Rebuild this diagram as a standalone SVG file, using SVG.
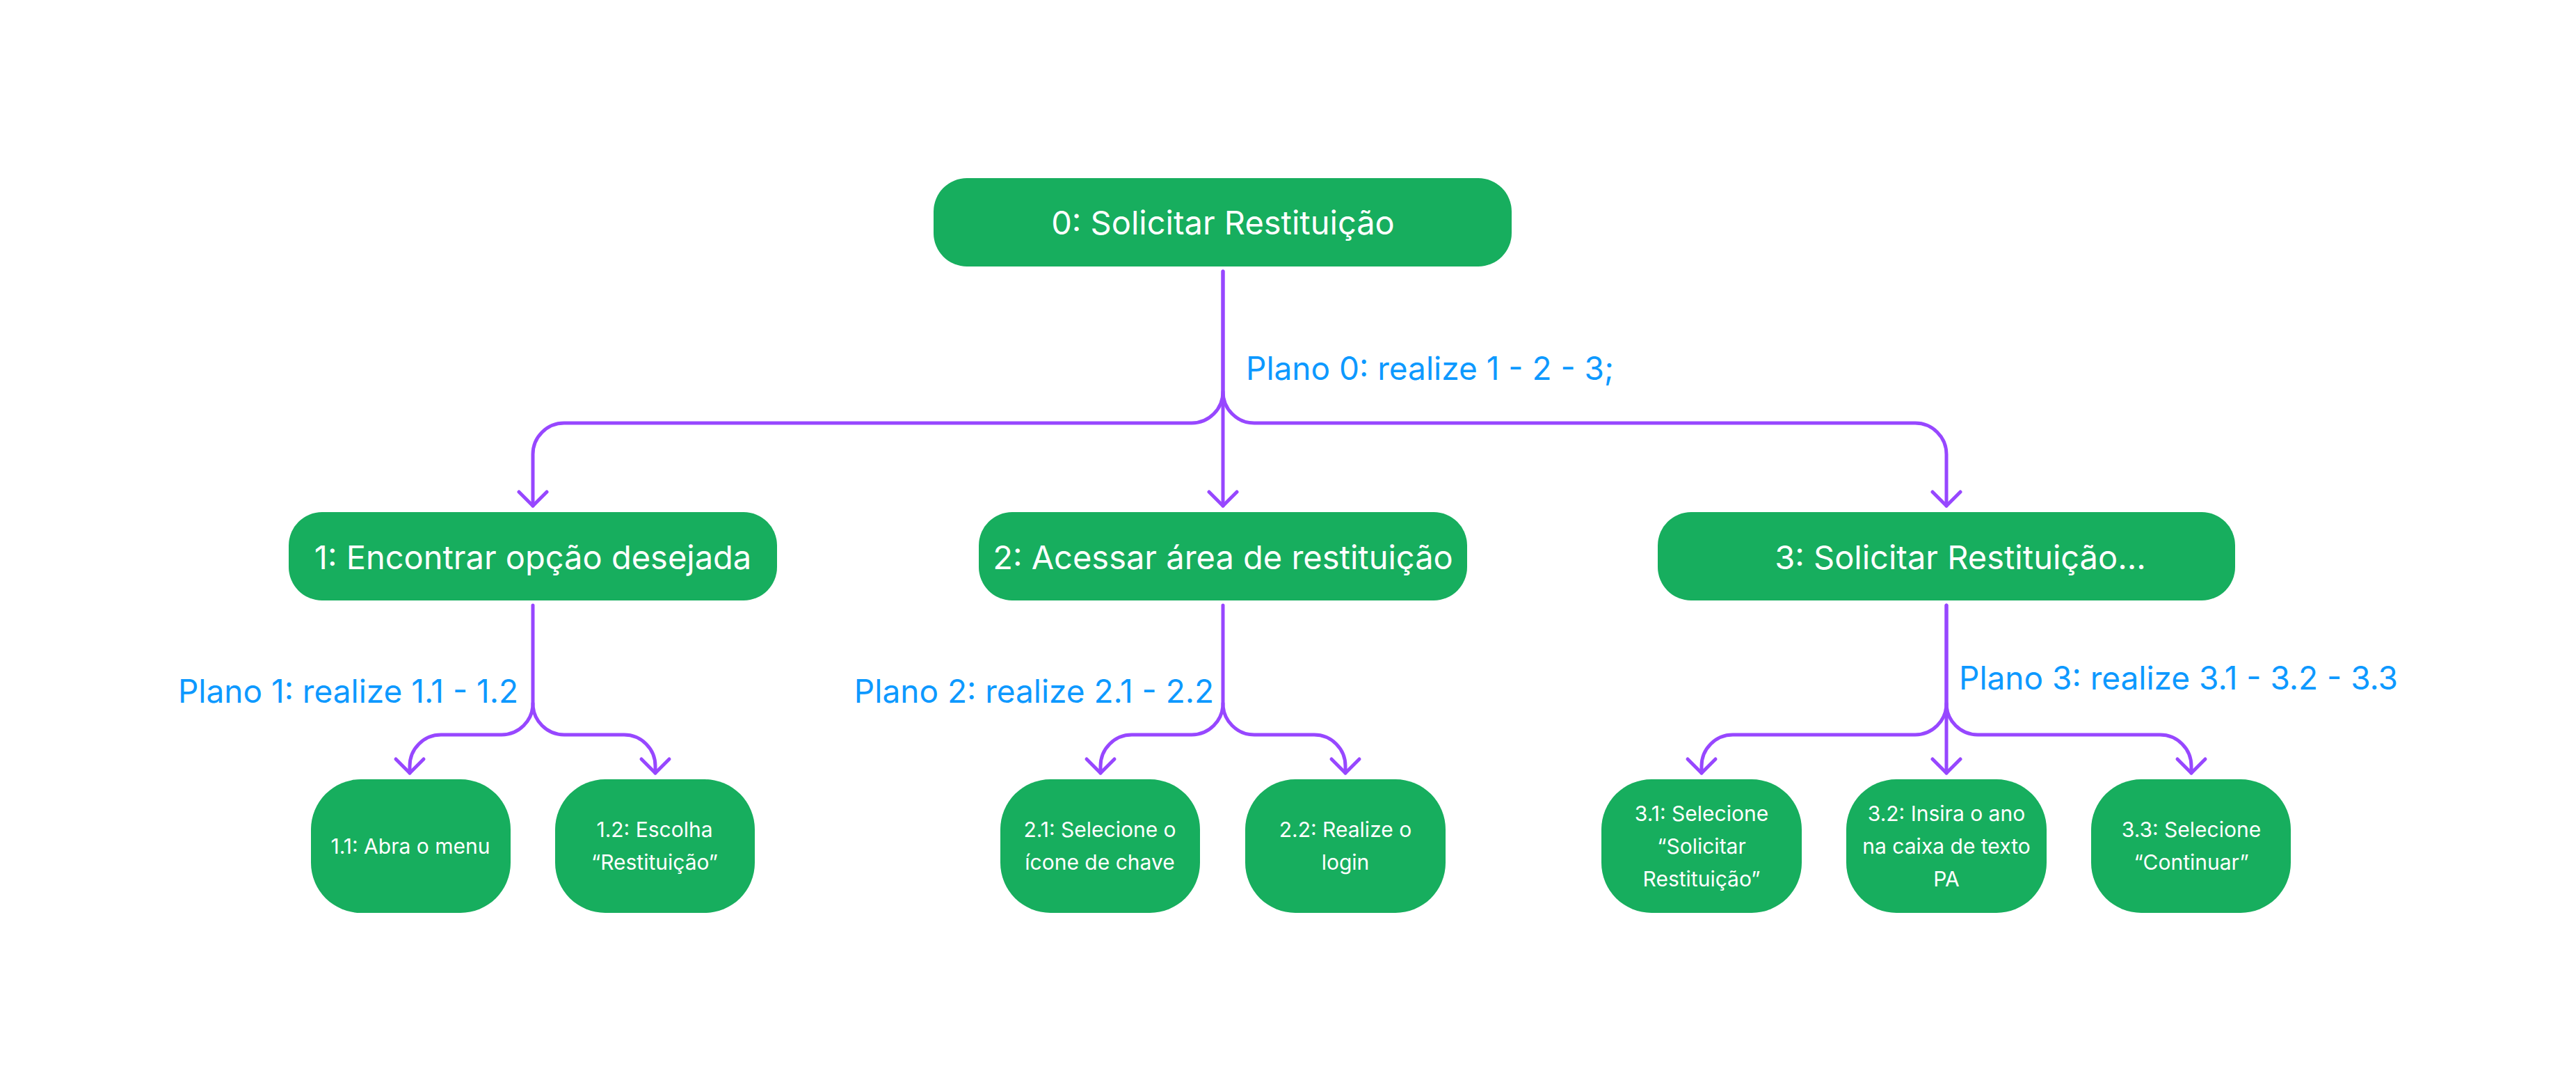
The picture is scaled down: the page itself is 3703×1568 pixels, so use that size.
<svg xmlns="http://www.w3.org/2000/svg" width="3703" height="1568" viewBox="0 0 3703 1568">
  <style>
    .node rect { fill: #17AE5E; }
    .t { font-family: Inter, "Liberation Sans", sans-serif; fill: #FFFFFF; text-anchor: middle; }
    .big { font-size: 47px; }
    .small { font-size: 30px; }
    .plan { font-family: Inter, "Liberation Sans", sans-serif; font-size: 46px; fill: #0D99FF; }
    .conn path { fill: none; stroke: #9747FF; stroke-width: 5; stroke-linecap: round; stroke-linejoin: round; }
  </style>
  <rect width="3703" height="1568" fill="#FFFFFF"/>

  <g id="connectors" class="conn">
    <!-- level 0 -->
    <path d="M1758 390 V727"/>
    <path d="M1758 390 V563 A45 45 0 0 1 1713 608 H811 A45 45 0 0 0 766 653 V727"/>
    <path d="M1758 563 A45 45 0 0 0 1803 608 H2753 A45 45 0 0 1 2798 653 V727"/>
    <path d="M746 707 L766 727 L786 707"/>
    <path d="M1738 707 L1758 727 L1778 707"/>
    <path d="M2778 707 L2798 727 L2818 707"/>
    <!-- node 1 -->
    <path d="M766 870 V1011 A45 45 0 0 1 721 1056 H634 A45 45 0 0 0 589 1101 V1111"/>
    <path d="M766 1011 A45 45 0 0 0 811 1056 H897 A45 45 0 0 1 942 1101 V1111"/>
    <path d="M569 1091 L589 1111 L609 1091"/>
    <path d="M922 1091 L942 1111 L962 1091"/>
    <!-- node 2 -->
    <path d="M1758 870 V1011 A45 45 0 0 1 1713 1056 H1627 A45 45 0 0 0 1582 1101 V1111"/>
    <path d="M1758 1011 A45 45 0 0 0 1803 1056 H1889 A45 45 0 0 1 1934 1101 V1111"/>
    <path d="M1562 1091 L1582 1111 L1602 1091"/>
    <path d="M1914 1091 L1934 1111 L1954 1091"/>
    <!-- node 3 -->
    <path d="M2798 870 V1111"/>
    <path d="M2798 870 V1011 A45 45 0 0 1 2753 1056 H2491 A45 45 0 0 0 2446 1101 V1111"/>
    <path d="M2798 1011 A45 45 0 0 0 2843 1056 H3105 A45 45 0 0 1 3150 1101 V1111"/>
    <path d="M2426 1091 L2446 1111 L2466 1091"/>
    <path d="M2778 1091 L2798 1111 L2818 1091"/>
    <path d="M3130 1091 L3150 1111 L3170 1091"/>
  </g>

  <g id="plans">
    <text class="plan" x="1791" y="546">Plano 0: realize 1 - 2 - 3;</text>
    <text class="plan" x="745" y="1010" text-anchor="end">Plano 1: realize 1.1 - 1.2</text>
    <text class="plan" x="1745" y="1010" text-anchor="end">Plano 2: realize 2.1 - 2.2</text>
    <text class="plan" x="2816" y="991">Plano 3: realize 3.1 - 3.2 - 3.3</text>
  </g>

  <g id="node-0" class="node">
    <rect x="1342" y="256" width="831" height="127" rx="48"/>
    <text class="t big" x="1758" y="337">0: Solicitar Restituição</text>
  </g>
  <g id="node-1" class="node">
    <rect x="415" y="736" width="702" height="127" rx="48"/>
    <text class="t big" x="766" y="818">1: Encontrar opção desejada</text>
  </g>
  <g id="node-2" class="node">
    <rect x="1407" y="736" width="702" height="127" rx="48"/>
    <text class="t big" x="1758" y="818">2: Acessar área de restituição</text>
  </g>
  <g id="node-3" class="node">
    <rect x="2383" y="736" width="830" height="127" rx="48"/>
    <text class="t big" x="2818" y="818">3: Solicitar Restituição...</text>
  </g>

  <g id="node-1-1" class="node">
    <rect x="447" y="1120" width="287" height="192" rx="72"/>
    <text class="t small" x="590" y="1227">1.1: Abra o menu</text>
  </g>
  <g id="node-1-2" class="node">
    <rect x="798" y="1120" width="287" height="192" rx="72"/>
    <text class="t small" x="941" y="1203">1.2: Escolha</text>
    <text class="t small" x="941" y="1250">“Restituição”</text>
  </g>
  <g id="node-2-1" class="node">
    <rect x="1438" y="1120" width="287" height="192" rx="72"/>
    <text class="t small" x="1581" y="1203">2.1: Selecione o</text>
    <text class="t small" x="1581" y="1250">ícone de chave</text>
  </g>
  <g id="node-2-2" class="node">
    <rect x="1790" y="1120" width="288" height="192" rx="72"/>
    <text class="t small" x="1934" y="1203">2.2: Realize o</text>
    <text class="t small" x="1934" y="1250">login</text>
  </g>
  <g id="node-3-1" class="node">
    <rect x="2302" y="1120" width="288" height="192" rx="72"/>
    <text class="t small" x="2446" y="1180">3.1: Selecione</text>
    <text class="t small" x="2446" y="1227">“Solicitar</text>
    <text class="t small" x="2446" y="1274">Restituição”</text>
  </g>
  <g id="node-3-2" class="node">
    <rect x="2654" y="1120" width="288" height="192" rx="72"/>
    <text class="t small" x="2798" y="1180">3.2: Insira o ano</text>
    <text class="t small" x="2798" y="1227">na caixa de texto</text>
    <text class="t small" x="2798" y="1274">PA</text>
  </g>
  <g id="node-3-3" class="node">
    <rect x="3006" y="1120" width="287" height="192" rx="72"/>
    <text class="t small" x="3150" y="1203">3.3: Selecione</text>
    <text class="t small" x="3150" y="1250">“Continuar”</text>
  </g>
</svg>
